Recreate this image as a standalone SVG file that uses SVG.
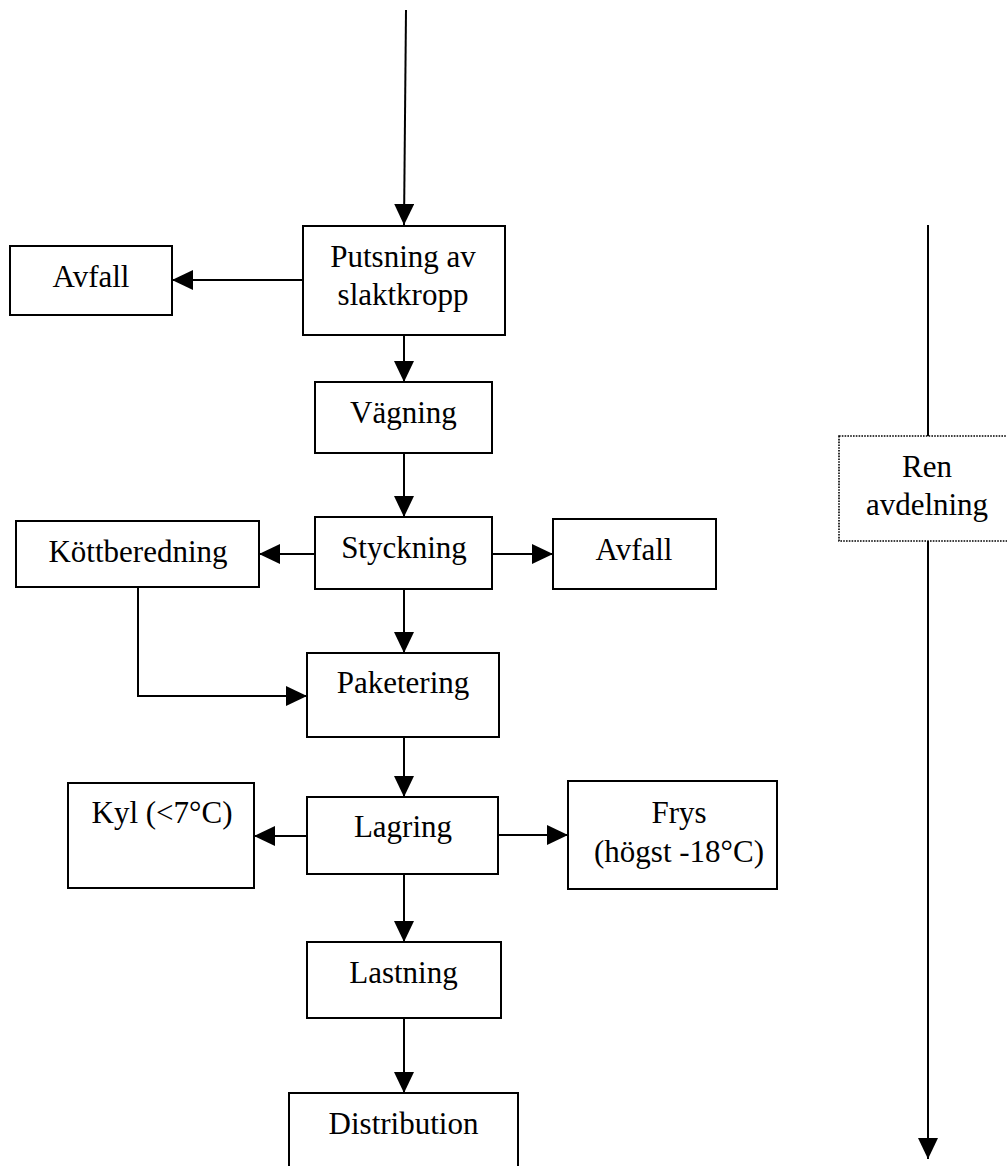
<svg xmlns="http://www.w3.org/2000/svg" width="1007" height="1166" viewBox="0 0 1007 1166">
<defs>
<style>
.box{fill:#fff;stroke:#000;stroke-width:2}
.dot{fill:#fff;stroke:#000;stroke-width:1.6;stroke-dasharray:1.6 1.2}
.c{fill:none;stroke:#000;stroke-width:2}
text{font-family:"Liberation Serif","Times New Roman",serif;font-size:31px;fill:#000;text-anchor:middle}
</style>
<marker id="ah" markerUnits="userSpaceOnUse" markerWidth="21" markerHeight="20" viewBox="0 0 21 20" refX="21" refY="10" orient="auto">
<path d="M0,0 L21,10 L0,20 z" fill="#000"/>
</marker>
</defs>
<rect width="1007" height="1166" fill="#fff"/>
<g id="connectors">
<line class="c" x1="406" y1="10" x2="404" y2="225" marker-end="url(#ah)"/>
<line class="c" x1="303" y1="280" x2="172" y2="280" marker-end="url(#ah)"/>
<line class="c" x1="404" y1="335" x2="404" y2="382" marker-end="url(#ah)"/>
<line class="c" x1="404" y1="453" x2="404" y2="517" marker-end="url(#ah)"/>
<line class="c" x1="315" y1="554" x2="259" y2="554" marker-end="url(#ah)"/>
<line class="c" x1="492" y1="554" x2="553" y2="554" marker-end="url(#ah)"/>
<line class="c" x1="404" y1="589" x2="404" y2="653" marker-end="url(#ah)"/>
<path class="c" d="M138,587 V696 H307" marker-end="url(#ah)"/>
<line class="c" x1="404" y1="737" x2="404" y2="797" marker-end="url(#ah)"/>
<line class="c" x1="307" y1="836" x2="254" y2="836" marker-end="url(#ah)"/>
<line class="c" x1="498" y1="835" x2="568" y2="835" marker-end="url(#ah)"/>
<line class="c" x1="404" y1="874" x2="404" y2="942" marker-end="url(#ah)"/>
<line class="c" x1="404" y1="1018" x2="404" y2="1093" marker-end="url(#ah)"/>
<line class="c" x1="928" y1="225" x2="928" y2="1159" marker-end="url(#ah)"/>
</g>
<g id="putsning"><rect class="box" x="303" y="226" width="202" height="109"/><text x="403" y="267">Putsning av</text><text x="403" y="305">slaktkropp</text></g>
<g id="avfall1"><rect class="box" x="10" y="246" width="162" height="69"/><text x="91" y="287">Avfall</text></g>
<g id="vagning"><rect class="box" x="315" y="382" width="177" height="71"/><text x="403.5" y="423">Vägning</text></g>
<g id="styckning"><rect class="box" x="315" y="517" width="177" height="72"/><text x="404" y="558">Styckning</text></g>
<g id="kottberedning"><rect class="box" x="16" y="521" width="243" height="66"/><text x="138" y="562">Köttberedning</text></g>
<g id="avfall2"><rect class="box" x="553" y="519" width="163" height="70"/><text x="634" y="560">Avfall</text></g>
<g id="paketering"><rect class="box" x="307" y="653" width="192" height="84"/><text x="403" y="693">Paketering</text></g>
<g id="lagring"><rect class="box" x="307" y="797" width="191" height="77"/><text x="403" y="837">Lagring</text></g>
<g id="kyl"><rect class="box" x="68" y="783" width="186" height="105"/><text x="162" y="823">Kyl (&lt;7°C)</text></g>
<g id="frys"><rect class="box" x="568" y="781" width="209" height="108"/><text x="679" y="823">Frys</text><text x="679" y="862">(högst -18°C)</text></g>
<g id="lastning"><rect class="box" x="307" y="942" width="194" height="76"/><text x="403.5" y="983">Lastning</text></g>
<g id="distribution"><rect class="box" x="289" y="1093" width="229" height="90"/><text x="403.5" y="1134">Distribution</text></g>
<g id="ren"><rect class="dot" x="839" y="436" width="180" height="105"/><text x="927" y="477">Ren</text><text x="927" y="515">avdelning</text></g>
</svg>
